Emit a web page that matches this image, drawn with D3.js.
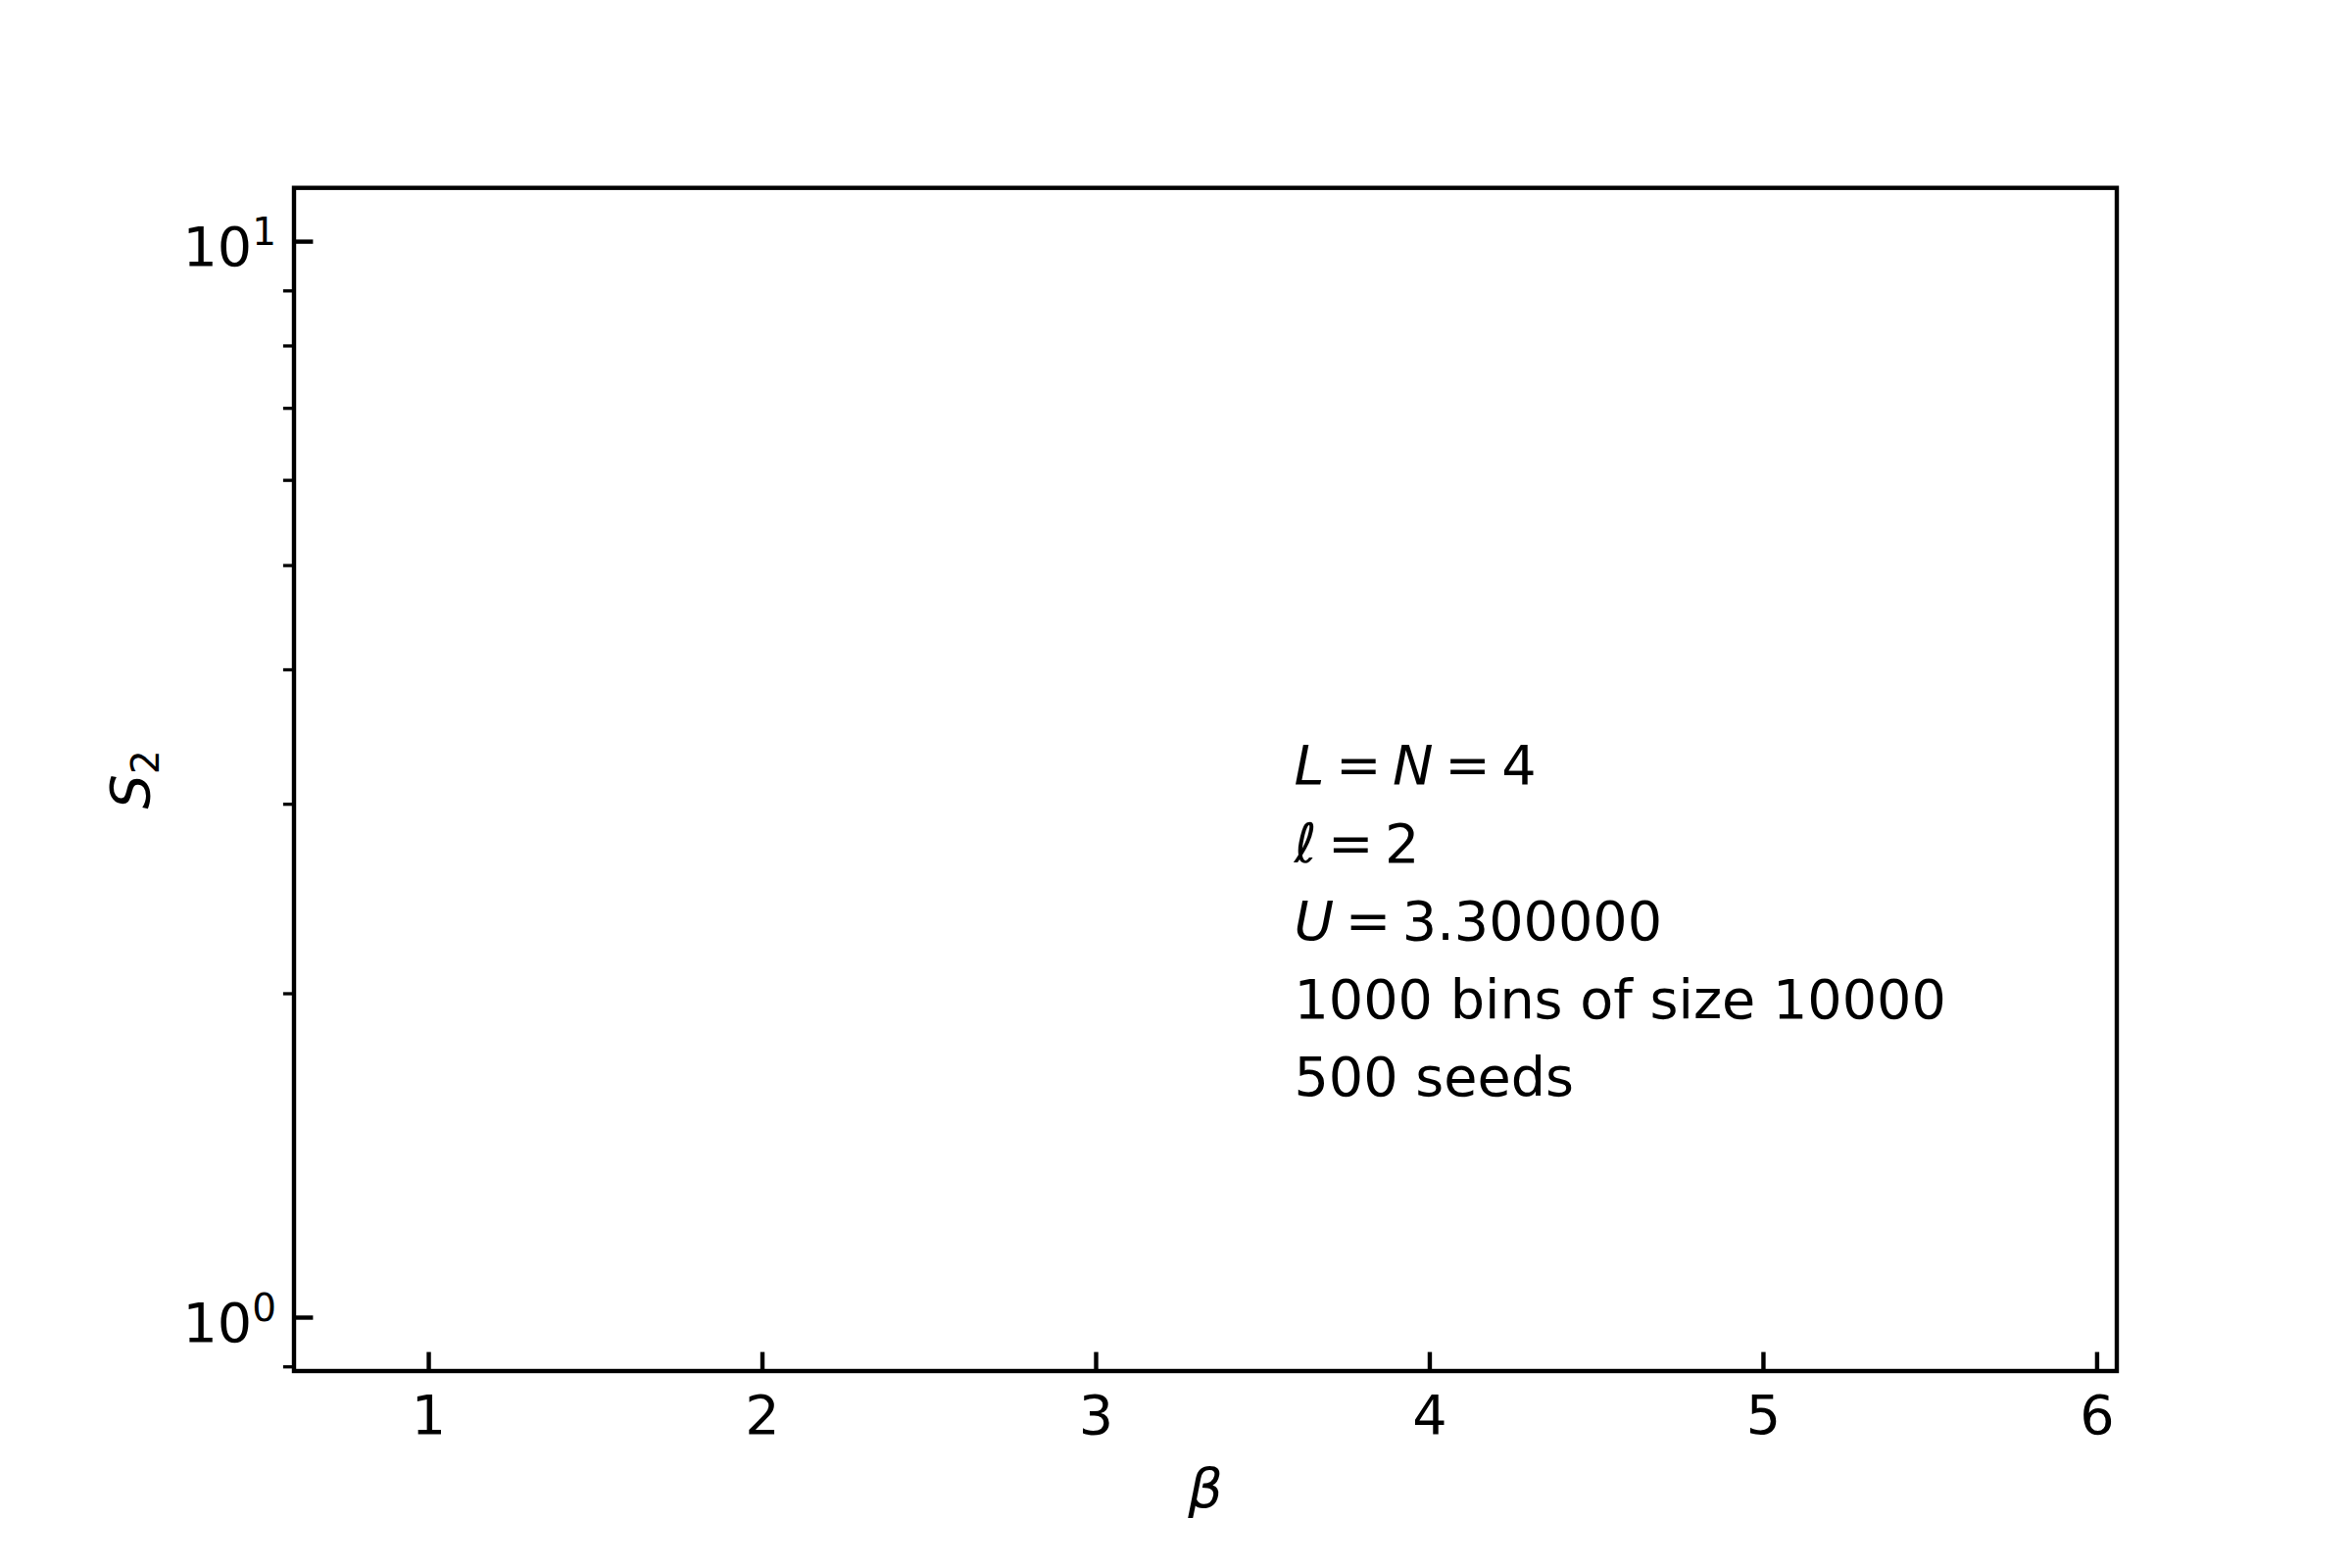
<!DOCTYPE html>
<html>
<head>
<meta charset="utf-8">
<script src="https://cdn.jsdelivr.net/npm/d3@7"></script>
<style>
  html, body { margin: 0; padding: 0; background: #fff; }
  svg { display: block; }
  text { font-family: "DejaVu Sans", sans-serif; fill: #000; }
</style>
</head>
<body>
<svg id="chart" width="2400" height="1600"></svg>
<script>
// ---- data (the reference plot contains no data marks) ----
const xDomain = [0.596, 6.059];
const yDomain = [0.892, 11.22];
const xTicks = [1, 2, 3, 4, 5, 6];
const yMajorTicks = [1, 10];
const yMajorExp = ["0", "1"];
const yMinorTicks = [0.9, 2, 3, 4, 5, 6, 7, 8, 9];
// each part: [text, italic, gapBefore (math spacing)]
const annotationLines = [
  [["L", true, 0], ["=", false, 1], ["N", true, 1], ["=", false, 1], ["4", false, 1]],
  [["\u2113", true, 0], ["=", false, 1], ["2", false, 1]],
  [["U", true, 0], ["=", false, 1], ["3.300000", false, 1]],
  [["1000 bins of size 10000", false, 0]],
  [["500 seeds", false, 0]]
];

// ---- layout ----
const mL = 300, mR = 2160, mT = 191.7, mB = 1399;
const fs = 55.6;
const lw = 4.4;
const mathGap = 11.5;

const svg = d3.select("#chart");
const x = d3.scaleLinear().domain(xDomain).range([mL, mR]);
const y = d3.scaleLog().domain(yDomain).range([mB, mT]);

// x ticks (inward)
const xg = svg.append("g");
xg.selectAll("line").data(xTicks).join("line")
  .attr("x1", d => x(d)).attr("x2", d => x(d))
  .attr("y1", mB).attr("y2", mB - 19.4)
  .attr("stroke", "#000").attr("stroke-width", lw);
xg.selectAll("text").data(xTicks).join("text")
  .attr("x", d => x(d)).attr("y", mB + 64)
  .attr("text-anchor", "middle")
  .attr("font-size", fs)
  .text(d => d3.format("d")(d));

// y major ticks (inward)
const yg = svg.append("g");
yg.selectAll("line.major").data(yMajorTicks).join("line")
  .attr("class", "major")
  .attr("x1", mL).attr("x2", mL + 19.4)
  .attr("y1", d => y(d)).attr("y2", d => y(d))
  .attr("stroke", "#000").attr("stroke-width", lw);
// y minor ticks (outward)
yg.selectAll("line.minor").data(yMinorTicks).join("line")
  .attr("class", "minor")
  .attr("x1", mL).attr("x2", mL - 11.1)
  .attr("y1", d => y(d)).attr("y2", d => y(d))
  .attr("stroke", "#000").attr("stroke-width", 3.3);
// y labels 10^n
yMajorTicks.forEach((d, i) => {
  const t = yg.append("text")
    .attr("x", mL - 18).attr("y", y(d) + 24)
    .attr("text-anchor", "end")
    .attr("font-size", fs);
  t.append("tspan").text("10");
  t.append("tspan").attr("dy", -21).attr("font-size", fs * 0.7).text(yMajorExp[i]);
});

// frame
svg.append("rect")
  .attr("x", mL).attr("y", mT)
  .attr("width", mR - mL).attr("height", mB - mT)
  .attr("fill", "none").attr("stroke", "#000").attr("stroke-width", lw)
  .attr("stroke-linejoin", "miter");

// axis labels
svg.append("text")
  .attr("x", (mL + mR) / 2).attr("y", 1538)
  .attr("text-anchor", "middle").attr("font-size", fs)
  .attr("font-style", "italic")
  .text("\u03B2");

const yl = svg.append("text")
  .attr("transform", `translate(152, ${(mT + mB) / 2}) rotate(-90)`)
  .attr("text-anchor", "middle").attr("font-size", fs);
yl.append("tspan").attr("font-style", "italic").text("S");
yl.append("tspan").attr("dy", 10).attr("font-size", fs * 0.7).text("2");

// annotation
annotationLines.forEach((parts, i) => {
  const t = svg.append("text")
    .attr("x", 1320.5).attr("y", 800 + i * 79.5)
    .attr("font-size", fs);
  parts.forEach(([s, it, g]) => {
    t.append("tspan")
      .attr("dx", g * mathGap)
      .attr("font-style", it ? "italic" : "normal")
      .text(s);
  });
});
</script>
</body>
</html>
